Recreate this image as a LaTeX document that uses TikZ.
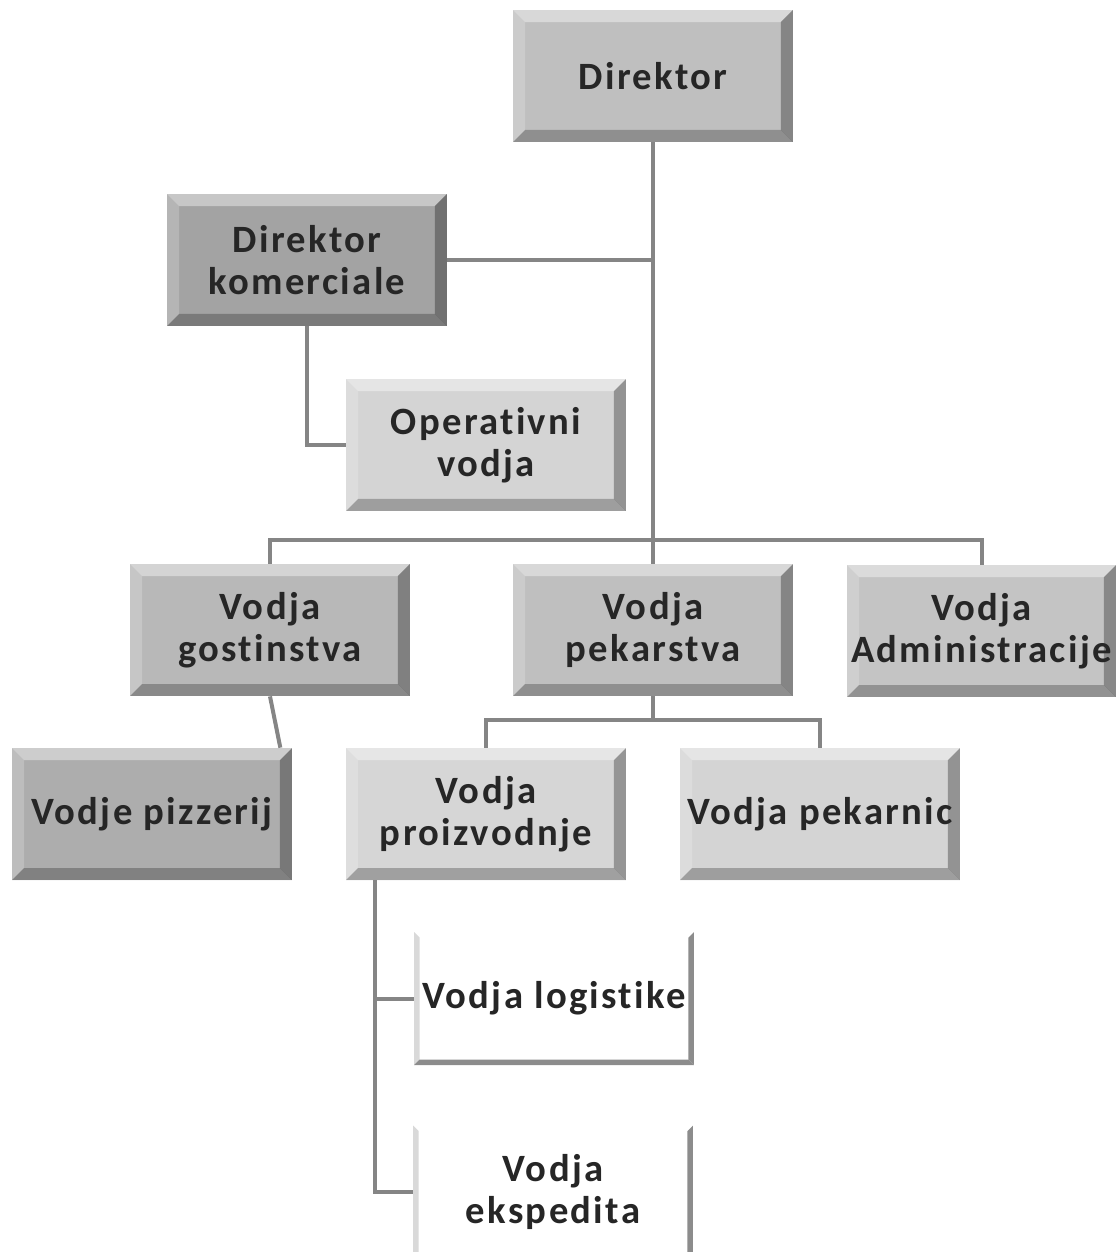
\documentclass[tikz,border=0pt]{standalone}
\usepackage{fontspec}
\setmainfont{Carlito}[LetterSpace=6, Ligatures=NoCommon]
\usetikzlibrary{calc}

% bevelled sides of a box: width, top, left, right, bottom
\newcommand{\bevelsides}[5]{%
  \coordinate (bnw) at (path picture bounding box.north west);
  \coordinate (bne) at (path picture bounding box.north east);
  \coordinate (bsw) at (path picture bounding box.south west);
  \coordinate (bse) at (path picture bounding box.south east);
  \fill[#2] (bnw) -- (bne) -- ([shift={(-#1,-#1)}]bne) -- ([shift={(#1,-#1)}]bnw) -- cycle;
  \fill[#3] (bnw) -- ([shift={(#1,-#1)}]bnw) -- ([shift={(#1,#1)}]bsw) -- (bsw) -- cycle;
  \fill[#4] (bne) -- ([shift={(-#1,-#1)}]bne) -- ([shift={(-#1,#1)}]bse) -- (bse) -- cycle;
  \fill[#5] (bsw) -- ([shift={(#1,#1)}]bsw) -- ([shift={(-#1,#1)}]bse) -- (bse) -- cycle;
}

\begin{document}
\begin{tikzpicture}[x=0.02cm, y=-0.02cm,
    box/.style={fill=#1, minimum width=5.6cm, minimum height=2.64cm, inner sep=0pt, align=center,
      font=\fontsize{22}{24}\selectfont\bfseries, text=black!85,
      path picture={\bevelsides{0.24cm}{white,opacity=.4}{white,opacity=.2}{black,opacity=.3}{black,opacity=.25}}},
    openbox/.style={fill=white, minimum width=5.6cm, minimum height=2.66cm, inner sep=0pt, align=center,
      font=\fontsize{22}{24}\selectfont\bfseries, text=black!85,
      path picture={\bevelsides{0.11cm}{white}{black!15}{black!45}{black!45}}},
    link/.style={draw=black!48, line width=0.08cm}]
    \useasboundingbox (0,0) rectangle (1116,1252);

    \node[box=black!25] (dir) at (653,76) {Direktor};
    \node[box=black!36] (kom) at (307,260) {Direktor\\komerciale};
    \node[box=black!17] (ope) at (486,445) {Operativni\\vodja};
    \node[box=black!28] (gos) at (270,630) {Vodja\\gostinstva};
    \node[box=black!25] (pek) at (653,630) {Vodja\\pekarstva};
    \node[box=black!23, minimum width=5.38cm] (adm) at (981.5,631) {Vodja\\Administracije};
    \node[box=black!32] (piz) at (152,814) {Vodje pizzerij};
    \node[box=black!16] (pro) at (486,814) {Vodja\\proizvodnje};
    \node[box=black!17] (pkn) at (820,814) {Vodja pekarnic};
    \node[openbox] (log) at (554,998.5) {Vodja logistike};
    \node[openbox] (eks) at (553,1192) {Vodja\\ekspedita};

    \coordinate (dirbus) at (653,540);
    \coordinate (pekbus) at (653,720);
    \coordinate (projoin) at (375,880);

    \draw[link] (dir) -- (pek);
    \draw[link] (kom.east) -- (kom.east -| dir.south);
    \draw[link] (kom.south) |- (ope.west);
    \draw[link] (gos.north) |- (dirbus) -| (adm.north);
    \draw[link] (gos.south) -- ([xshift=-0.24cm]piz.north east);
    \draw[link] (pek.south) -- (pekbus);
    \draw[link] (pro.north) |- (pekbus) -| (pkn.north);
    \draw[link] (projoin) |- (log.west);
    \draw[link] (projoin) |- (eks.west);
\end{tikzpicture}
\end{document}
